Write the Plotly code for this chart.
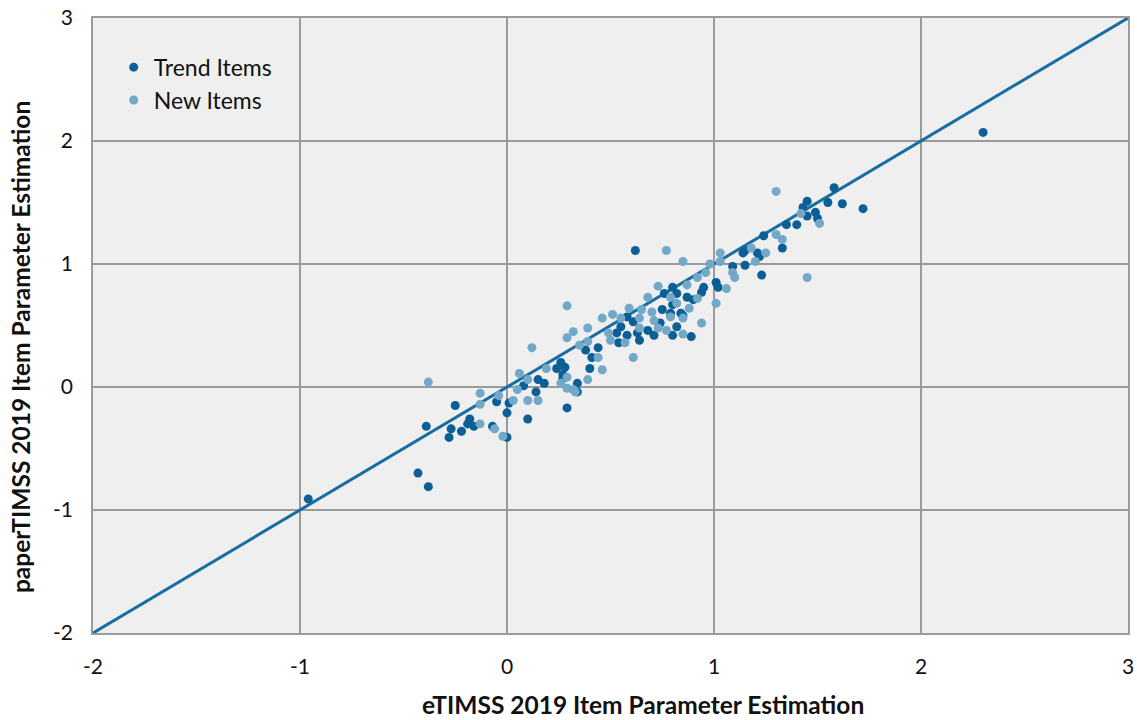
import plotly.graph_objects as go

# Item difficulty estimates: eTIMSS (x) vs paperTIMSS (y)
trend_x = [-0.96, -0.43, -0.38, -0.39, -0.25, -0.27, -0.28, -0.22, -0.18, -0.19,
           -0.16, -0.07, -0.05, 0.00, 0.00, 0.01, 0.10, 0.14, 0.08, 0.15,
           0.18, 0.26, 0.24, 0.28, 0.27, 0.34, 0.29, 0.34, 0.38, 0.41,
           0.44, 0.40, 0.53, 0.55, 0.58, 0.63, 0.64, 0.68, 0.71, 0.74,
           0.75, 0.79, 0.80, 0.82, 0.54, 0.58, 0.61, 0.80, 0.82, 0.87,
           0.90, 0.95, 0.94, 1.01, 1.02, 0.89, 0.80, 0.84, 1.09, 1.15,
           1.14, 1.23, 1.21, 1.15, 1.24, 1.22, 1.33, 1.35, 1.40, 1.45,
           1.43, 1.49, 1.50, 1.55, 1.62, 1.58, 1.45, 1.72, 2.30, 0.62,
           0.27, 0.76, 0.85]
trend_y = [-0.91, -0.70, -0.81, -0.32, -0.15, -0.34, -0.41, -0.36, -0.26, -0.30,
           -0.32, -0.32, -0.12, -0.21, -0.41, -0.13, -0.26, -0.04, 0.01, 0.06,
           0.03, 0.20, 0.15, 0.16, 0.10, 0.03, -0.17, -0.04, 0.30, 0.24,
           0.32, 0.15, 0.44, 0.49, 0.42, 0.44, 0.38, 0.46, 0.42, 0.52,
           0.63, 0.60, 0.67, 0.49, 0.36, 0.57, 0.53, 0.81, 0.76, 0.73,
           0.71, 0.81, 0.77, 0.85, 0.81, 0.41, 0.42, 0.60, 0.98, 0.99,
           1.09, 0.91, 1.09, 1.11, 1.23, 1.06, 1.13, 1.32, 1.32, 1.39,
           1.46, 1.42, 1.37, 1.50, 1.49, 1.62, 1.51, 1.45, 2.07, 1.11,
           0.07, 0.76, 0.58]

new_x = [-0.38, -0.13, -0.13, -0.13, -0.06, -0.02, -0.04, 0.05, 0.06, 0.10,
         0.12, 0.10, 0.03, 0.15, 0.19, 0.26, 0.29, 0.29, 0.33, 0.29,
         0.32, 0.35, 0.39, 0.29, 0.39, 0.46, 0.51, 0.49, 0.50, 0.57,
         0.59, 0.65, 0.68, 0.70, 0.71, 0.73, 0.77, 0.79, 0.82, 0.61,
         0.46, 0.44, 0.39, 0.32, 0.85, 0.98, 1.03, 1.09, 1.10, 1.06,
         1.01, 0.88, 0.92, 0.94, 0.85, 0.85, 0.92, 0.96, 1.03, 1.20,
         1.18, 1.25, 1.30, 1.33, 1.42, 1.51, 1.45, 1.30, 0.77, 0.64,
         0.64, 0.79, 0.55, 0.73, 0.87]
new_y = [0.04, -0.05, -0.14, -0.30, -0.34, -0.40, -0.07, -0.02, 0.11, -0.11,
         0.32, 0.06, -0.11, -0.11, 0.15, 0.03, 0.08, -0.01, -0.04, 0.40,
         0.45, 0.34, 0.37, 0.66, 0.48, 0.56, 0.59, 0.44, 0.38, 0.36,
         0.64, 0.63, 0.73, 0.61, 0.54, 0.48, 0.46, 0.73, 0.68, 0.24,
         0.14, 0.24, 0.06, -0.02, 1.02, 1.00, 1.02, 0.93, 0.89, 0.80,
         0.68, 0.64, 0.72, 0.52, 0.56, 0.43, 0.89, 0.93, 1.09, 1.02,
         1.13, 1.09, 1.24, 1.20, 1.41, 1.33, 0.89, 1.59, 1.11, 0.48,
         0.56, 0.57, 0.56, 0.82, 0.83]

# Identity reference line
diag = [-2, 3]

# Axis ticks (labels written with a plain hyphen)
tick_vals = [-2, -1, 0, 1, 2, 3]
tick_text = ["-2", "-1", "0", "1", "2", "3"]

x_title = "eTIMSS 2019 Item Parameter Estimation"
y_title = "paperTIMSS 2019 Item Parameter Estimation"

DARK = "#0b5f95"
LIGHT = "#72a8c8"
LINE = "#176da2"
GRID = "#9b9b9b"
FONT = "Lato, 'Open Sans', sans-serif"

fig = go.Figure()
fig.add_trace(go.Scatter(x=diag, y=diag, mode="lines",
                         line=dict(color=LINE, width=3), showlegend=False,
                         hoverinfo="skip"))
fig.add_trace(go.Scatter(x=trend_x, y=trend_y, mode="markers", name="Trend Items",
                         marker=dict(color=DARK, size=9)))
fig.add_trace(go.Scatter(x=new_x, y=new_y, mode="markers", name="New Items",
                         marker=dict(color=LIGHT, size=9)))

axis_common = dict(
    range=[-2, 3], tickmode="array", tickvals=tick_vals, ticktext=tick_text,
    showgrid=True, gridcolor=GRID, gridwidth=1.5,
    zeroline=False, showline=True, linecolor=GRID, linewidth=1.5, mirror=True,
    ticks="", automargin=False,
    tickfont=dict(family=FONT, size=21, color="#111111"),
)

fig.update_layout(
    width=1137, height=720,
    margin=dict(l=93, r=9, t=18, b=87),
    paper_bgcolor="white", plot_bgcolor="#efefef",
    font=dict(family=FONT, color="#111111"),
    xaxis=dict(**axis_common, ticklabelstandoff=14),
    yaxis=dict(**axis_common, ticklabelstandoff=14),
    legend=dict(x=0.02, y=0.955, xanchor="left", yanchor="top",
                bgcolor="rgba(0,0,0,0)", font=dict(family=FONT, size=23),
                itemwidth=30, tracegroupgap=0),
    showlegend=True,
    annotations=[
        dict(text=f"<b>{x_title}</b>", xref="paper", yref="paper",
             x=0.531, y=-0.117, xanchor="center", yanchor="middle",
             showarrow=False, font=dict(family=FONT, size=24.5, color="#111111")),
        dict(text=f"<b>{y_title}</b>", xref="paper", yref="paper",
             x=-0.0705, y=0.465, xanchor="center", yanchor="middle",
             textangle=-90, showarrow=False,
             font=dict(family=FONT, size=24.5, color="#111111")),
    ],
)

fig.write_html("out.html")
